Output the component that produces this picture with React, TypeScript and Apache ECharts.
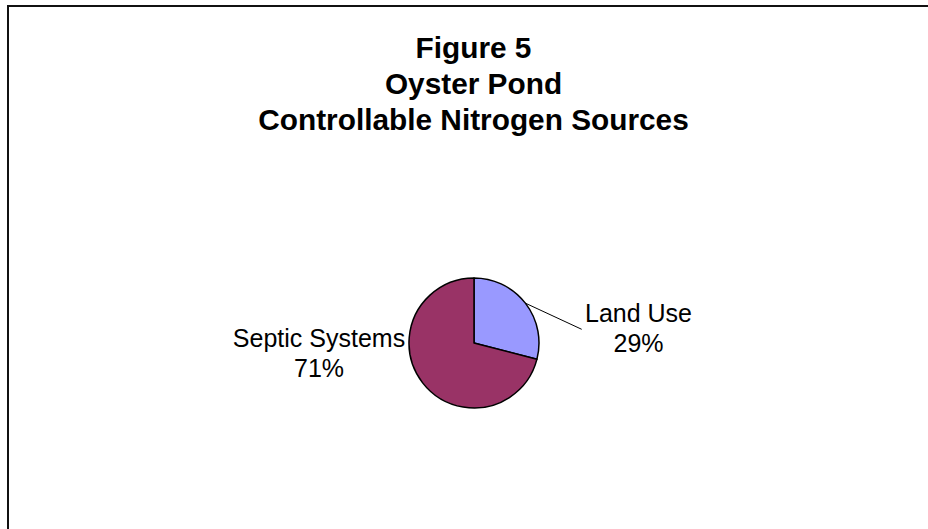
import React, { useEffect, useRef } from "react";
import * as echarts from "echarts";

const titleLines = ["Figure 5", "Oyster Pond", "Controllable Nitrogen Sources"];
const categories = ["Land Use", "Septic Systems"];
const values = [29, 71];
const colors = ["#9999FF", "#993366"];

export default function App() {
  const ref = useRef<HTMLDivElement>(null);
  useEffect(() => {
    if (!ref.current) return;
    const chart = echarts.init(ref.current, null, { renderer: "svg" });
    const font = "Arial, 'Liberation Sans', sans-serif";
    chart.setOption({
      animation: false,
      backgroundColor: "#ffffff",
      title: {
        text: titleLines.join("\n"),
        left: 473.5,
        textAlign: "center",
        top: 30,
        padding: 0,
        textStyle: {
          fontFamily: font,
          fontWeight: "bold",
          fontSize: 29.8,
          lineHeight: 35.7,
          color: "#000000",
        },
      },
      graphic: [
        {
          type: "line",
          shape: { x1: 8, y1: 5, x2: 8, y2: 529 },
          style: { stroke: "#111111", lineWidth: 2 },
          silent: true,
        },
        {
          type: "line",
          shape: { x1: 7, y1: 6, x2: 928, y2: 6 },
          style: { stroke: "#111111", lineWidth: 2 },
          silent: true,
        },
      ],
      series: [
        {
          type: "pie",
          center: [474, 343],
          radius: [0, 65],
          startAngle: 90,
          clockwise: true,
          avoidLabelOverlap: false,
          itemStyle: { borderColor: "#000000", borderWidth: 1.5 },
          label: {
            show: true,
            position: "outside",
            formatter: (p: any) => `${p.name}\n${p.value}%`,
            fontFamily: font,
            fontSize: 25,
            lineHeight: 30,
            color: "#000000",
            align: "center",
          },
          labelLine: { show: true, length: 10, length2: 10, lineStyle: { color: "#000000", width: 1 } },
          labelLayout: (params: any) => {
            if (params.dataIndex === 0) {
              const p0 = params.labelLinePoints ? params.labelLinePoints[0] : [528, 305];
              const end = [581.7, 329.3];
              return {
                x: 638.5,
                y: 328,
                align: "center",
                verticalAlign: "middle",
                labelLinePoints: [p0, end, end],
              };
            }
            return {
              x: 319,
              y: 353,
              align: "center",
              verticalAlign: "middle",
              labelLinePoints: [[0, 0], [0, 0], [0, 0]],
            };
          },
          data: categories.map((name, i) => ({
            name,
            value: values[i],
            itemStyle: { color: colors[i] },
            labelLine: { show: i === 0 },
          })),
        },
      ],
    });
    return () => chart.dispose();
  }, []);
  return (
    <div
      ref={ref}
      style={{ position: "fixed", left: 0, top: 0, width: 928, height: 529 }}
    />
  );
}
